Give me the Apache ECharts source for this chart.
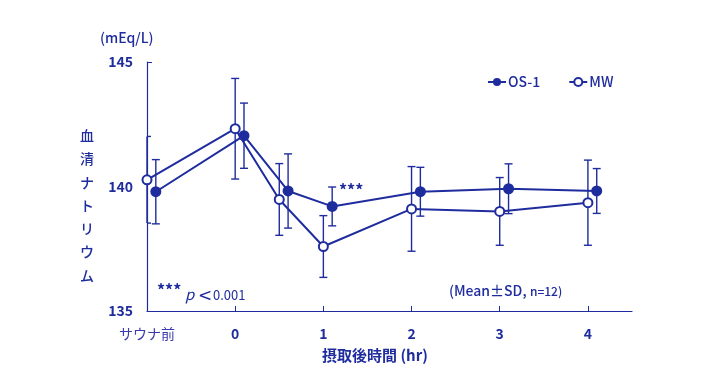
<!DOCTYPE html>
<html>
<head>
<meta charset="utf-8">
<script src="https://cdn.jsdelivr.net/npm/echarts@6/dist/echarts.min.js"></script>
<style>html,body{margin:0;padding:0;background:#fff}#c{width:707px;height:371px}</style>
</head>
<body>
<div id="c"></div>
<script>
// ---- data ----
var hours = [-1, 0, 0.5, 1, 2, 3, 4];
var xTickLabels = ['サウナ前', '0', '1', '2', '3', '4'];
var xTickValues = [-1, 0, 1, 2, 3, 4];
var yTickValues = [135, 140, 145];
var os1Mean = [139.79, 142.04, 139.82, 139.20, 139.79, 139.91, 139.82];
var os1SD   = [1.29, 1.31, 1.49, 0.78, 0.98, 1.00, 0.90];
var mwMean  = [140.27, 142.32, 139.48, 137.59, 139.10, 139.00, 139.35];
var mwSD    = [1.74, 2.02, 1.44, 1.24, 1.70, 1.36, 1.71];

var OS1_SHIFT = 0.1; // OS-1 drawn slightly to the right
var C = '#1f2c9e';
var FONT = '"Noto Sans CJK JP", "Noto Sans", sans-serif';

function pts(means, shift) {
  return hours.map(function (h, i) { return [h + shift, means[i]]; });
}
function bars(means, sds, shift) {
  return hours.map(function (h, i) { return [h + shift, means[i], sds[i]]; });
}
function errRender(params, api) {
  var x = api.value(0), m = api.value(1), s = api.value(2);
  var top = api.coord([x, m + s]);
  var bot = api.coord([x, m - s]);
  var w = 4;
  var minX = params.coordSys.x;
  var l = Math.max(top[0] - w, minX);
  var st = { stroke: C, lineWidth: 1.4 };
  return {
    type: 'group',
    children: [
      { type: 'line', shape: { x1: top[0], y1: top[1], x2: bot[0], y2: bot[1] }, style: st },
      { type: 'line', shape: { x1: l, y1: top[1], x2: top[0] + w, y2: top[1] }, style: st },
      { type: 'line', shape: { x1: l, y1: bot[1], x2: bot[0] + w, y2: bot[1] }, style: st }
    ]
  };
}

var chart = echarts.init(document.getElementById('c'), null, { renderer: 'canvas' });
chart.setOption({
  animation: false,
  textStyle: { fontFamily: FONT, color: C },
  grid: { left: 147, right: 75, top: 62, bottom: 60, containLabel: false },
  legend: {
    left: 487, top: 75, padding: 0, itemWidth: 18, itemHeight: 10, itemGap: 28,
    textStyle: { color: C, fontSize: 14, fontWeight: 500, fontFamily: FONT, padding: [7, 0, 0, -3] },
    data: ['OS-1', 'MW']
  },
  xAxis: {
    type: 'value', min: -1, max: 4.5,
    axisLine: { onZero: false, lineStyle: { color: C, width: 1.2 } },
    axisTick: { show: true, inside: true, length: 5, lineStyle: { color: C }, customValues: [0, 1, 2, 3, 4] },
    splitLine: { show: false },
    axisLabel: {
      customValues: xTickValues,
      margin: 16,
      formatter: function (v) {
        var i = xTickValues.indexOf(v);
        var t = i >= 0 ? xTickLabels[i] : '';
        return i === 0 ? '{a|' + t + '}' : '{b|' + t + '}';
      },
      rich: {
        a: { color: '#3a3aae', fontSize: 14, fontFamily: FONT, fontWeight: 400 },
        b: { color: C, fontSize: 14, fontFamily: FONT, fontWeight: 700 }
      }
    }
  },
  yAxis: {
    type: 'value', min: 135, max: 145,
    axisLine: { show: true, onZero: false, lineStyle: { color: C, width: 1.2 } },
    axisTick: { show: true, inside: true, length: 5, lineStyle: { color: C }, customValues: [145] },
    splitLine: { show: false },
    axisLabel: { customValues: yTickValues, margin: 14, color: C, fontSize: 14, fontWeight: 700, fontFamily: FONT }
  },
  series: [
    { type: 'custom', name: 'os1err', renderItem: errRender, data: bars(os1Mean, os1SD, OS1_SHIFT), z: 1, silent: true },
    { type: 'custom', name: 'mwerr', renderItem: errRender, data: bars(mwMean, mwSD, 0), z: 1, silent: true },
    {
      type: 'line', name: 'OS-1', data: pts(os1Mean, OS1_SHIFT), z: 3,
      symbol: 'circle', symbolSize: 11, showAllSymbol: true,
      lineStyle: { color: C, width: 2 },
      itemStyle: { color: C, borderColor: C, borderWidth: 0 }
    },
    {
      type: 'line', name: 'MW', data: pts(mwMean, 0), z: 4,
      symbol: 'circle', symbolSize: 9, showAllSymbol: true,
      lineStyle: { color: C, width: 2 },
      itemStyle: { color: '#ffffff', borderColor: C, borderWidth: 2 }
    }
  ],
  graphic: [
    { type: 'text', left: 100, top: 31, style: { text: '(mEq/L)', font: '500 14px ' + FONT, fill: C } },
    { type: 'text', left: 80, top: 124, style: { text: '血\n清\nナ\nト\nリ\nウ\nム', font: '500 14px ' + FONT, fill: C, lineHeight: 23.3 } },
    { type: 'text', left: 339, top: 182, style: { text: '***', font: '700 16px ' + FONT, fill: C } },
    { type: 'text', left: 157, top: 282, style: { text: '***', font: '700 16px ' + FONT, fill: C } },
    { type: 'text', left: 185, top: 287, style: { text: 'p', font: 'italic 400 15px ' + FONT, fill: C } },
    { type: 'text', left: 198, top: 288, style: { text: '<', font: '400 17px "DejaVu Sans", sans-serif', fill: C } },
    { type: 'text', left: 213, top: 289, style: { text: '0.001', font: '400 13px ' + FONT, fill: C } },
    {
      type: 'text', left: 449, top: 284,
      style: {
        text: '{a|(Mean±SD,} {b|n=12)}',
        rich: {
          a: { font: '500 14px ' + FONT, fill: C },
          b: { font: '500 12px ' + FONT, fill: C }
        }
      }
    },
    { type: 'text', left: 322, top: 348, style: { text: '摂取後時間 (hr)', font: '700 15px ' + FONT, fill: C } }
  ]
});
</script>
</body>
</html>
